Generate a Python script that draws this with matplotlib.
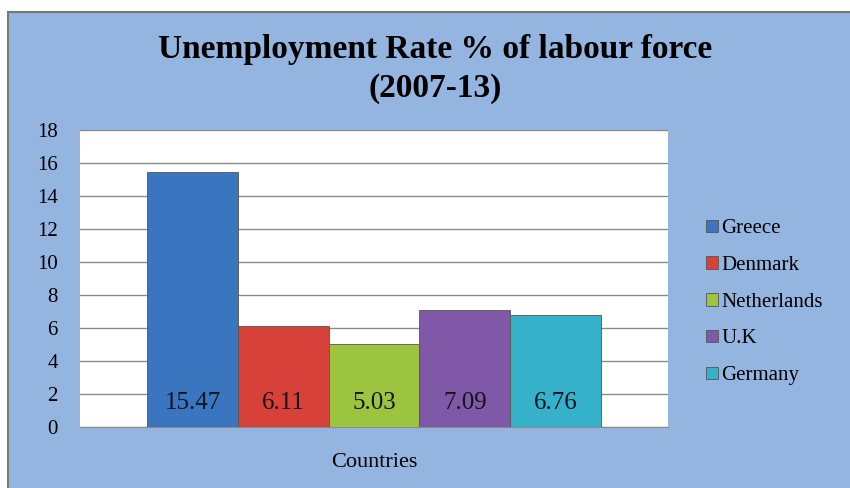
import matplotlib.pyplot as plt
from matplotlib.patches import Rectangle

countries = ['Greece', 'Denmark', 'Netherlands', 'U.K', 'Germany']
rates = [15.47, 6.11, 5.03, 7.09, 6.76]
colors = ['#3a76c0', '#d8403a', '#9cc43e', '#8058a8', '#35b1c9']

plt.rcParams['font.family'] = ['Liberation Serif', 'DejaVu Serif']

fig = plt.figure(figsize=(8.5, 4.88), dpi=100)
fig.patch.set_facecolor('white')
bg = '#94b5e0'
frame = Rectangle((8 / 850, -0.01), 850 / 850, 476 / 488 + 0.01, transform=fig.transFigure,
                  facecolor=bg, edgecolor='#7a7670', linewidth=1.5, zorder=0)
fig.patches.append(frame)

ax = fig.add_axes([80 / 850, 1 - 427 / 488, 588 / 850, 297 / 488])
ax.set_zorder(2)
ax.set_facecolor('white')

x = list(range(len(countries)))
bars = ax.bar(x, rates, width=1.0, color=colors, edgecolor='#555555', linewidth=0.6,
              label=countries, zorder=3)
for xi, v in zip(x, rates):
    ax.text(xi, 1.45, '%.2f' % v, ha='center', va='center', fontsize=18, color='#141420', zorder=4)

ax.set_xlim(-1.24, 5.24)
ax.set_ylim(0, 18)
ax.set_yticks(range(0, 19, 2))
ax.tick_params(axis='y', labelsize=15, length=0, pad=16)
ax.set_xticks([])
ax.grid(axis='y', color='#8a8a8a', linewidth=1.0, zorder=0)
for s in ['top', 'right', 'left']:
    ax.spines[s].set_visible(False)
ax.spines['bottom'].set_color('#8a8a8a')

ax.set_xlabel('Countries', fontsize=16, labelpad=19)

fig.text(0.512, 0.859, 'Unemployment Rate % of labour force\n(2007-13)', ha='center', va='center',
         fontsize=24, fontweight='bold', linespacing=1.3, zorder=3)

leg = ax.legend(handles=bars, labels=countries, loc='center left', bbox_to_anchor=(1.032, 0.42),
                frameon=False, fontsize=15, handlelength=0.6,
                handleheight=0.55, handletextpad=0.15, labelspacing=0.85)

fig.savefig('out.png', dpi=100, facecolor=fig.get_facecolor())
